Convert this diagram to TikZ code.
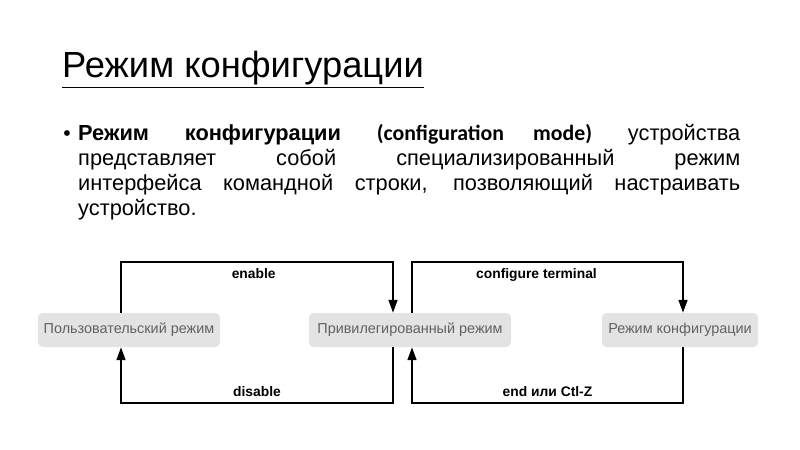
\documentclass[tikz,border=0pt]{standalone}
\usepackage{fontspec}
\setmainfont{Liberation Sans}
\newfontfamily\calib{Carlito}
\usetikzlibrary{arrows.meta}

\tikzset{
  mode/.style={fill=black!11, rounded corners=4pt, text=black!62, font=\fontsize{12.3}{14}\selectfont,
    minimum height=34*0.03cm, text height=9pt, text depth=2.5pt, inner xsep=4pt},
  cmd/.style={font=\fontsize{11.8}{13}\selectfont\bfseries},
  loop/.style={line width=1.7pt}
}

\begin{document}
\begin{tikzpicture}[x=0.03cm,y=-0.03cm,>={Triangle[length=11pt,width=7.5pt]}]
  \useasboundingbox (0,0) rectangle (800,450);

  % title and text
  \node (title) [anchor=base west, inner sep=0pt, font=\fontsize{31}{35}\selectfont] at (62,78)
    {\underline{Режим конфигурации}};
  \node (dot) [anchor=base, inner sep=0pt, font=\fontsize{18}{21}\selectfont] at (67,141) {•};
  \node (body) [anchor=base west, inner sep=0pt, text width=662*0.03cm, align=justify,
    font=\fontsize{18.6}{21.25}\selectfont] at (78,141)
    {\textbf{Режим конфигурации} {\calib\bfseries (configuration mode)} устройства\linebreak
     представляет собой специализированный режим\linebreak
     интерфейса командной строки, позволяющий настраивать\linebreak
     устройство.};

  % modes
  \node (user) [mode, minimum width=182*0.03cm] at (129,330) {Пользовательский режим};
  \node (priv) [mode, minimum width=202*0.03cm] at (410,330) {Привилегированный режим};
  \node (conf) [mode, minimum width=156*0.03cm] at (680,330) {Режим конфигурации};

  \coordinate (a1) at (121,262);
  \coordinate (a2) at (393,262);
  \coordinate (a3) at (121,403);
  \coordinate (a4) at (393,403);
  \coordinate (b1) at (412,262);
  \coordinate (b2) at (683,262);
  \coordinate (b3) at (412,403);
  \coordinate (b4) at (683,403);

  \draw[loop,->] (user.north -| a1) -- (a1) -- node[cmd, below=1pt, xshift=-0.1cm]{enable} (a2) -- (priv.north -| a2);
  \draw[loop,->] (priv.south -| a4) -- (a4) -- node[cmd, above=1pt]{disable} (a3) -- (user.south -| a3);
  \draw[loop,->] (priv.north -| b1) -- (b1) -- node[cmd, below=1pt, xshift=-0.33cm]{configure terminal} (b2) -- (conf.north -| b2);
  \draw[loop,->] (conf.south -| b4) -- (b4) -- node[cmd, above=1pt]{end или Ctl-Z} (b3) -- (priv.south -| b3);
\end{tikzpicture}
\end{document}
